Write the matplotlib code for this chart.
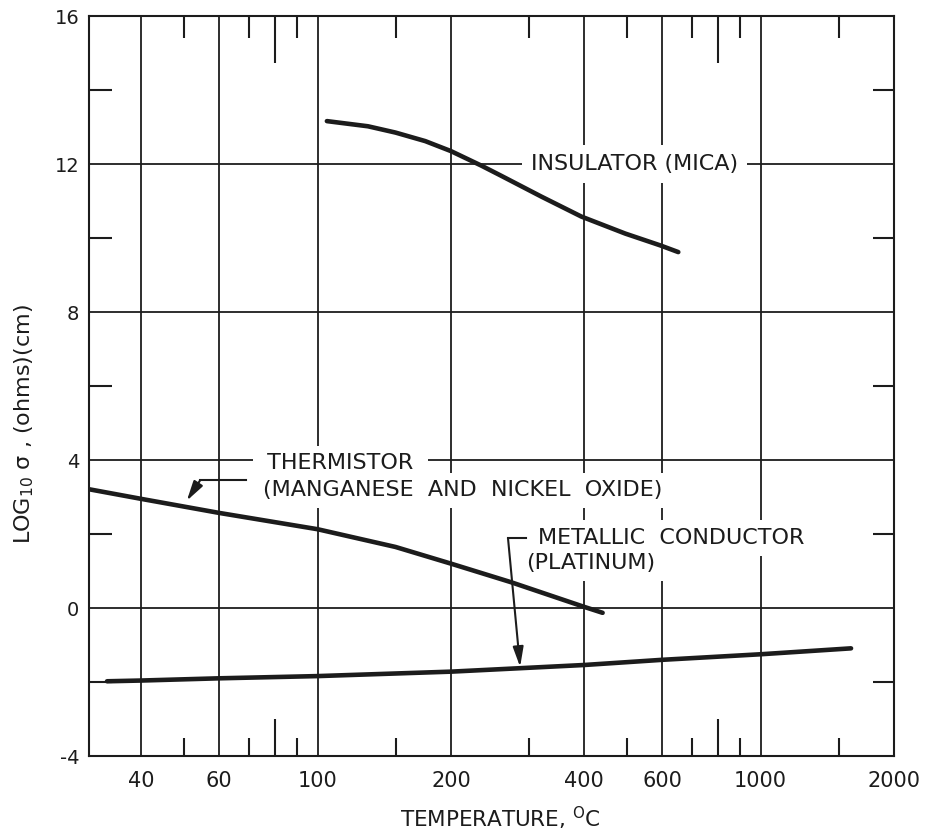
import matplotlib
matplotlib.use('Agg')
import matplotlib.pyplot as plt
from matplotlib.ticker import FixedLocator, FixedFormatter, NullFormatter

INK = '#1c1c1c'

# ---- axis ticks / labels ----
temp_ticks = [40, 60, 100, 200, 400, 600, 1000, 2000]
temp_tick_labels = ['40', '60', '100', '200', '400', '600', '1000', '2000']
temp_minor = [50, 70, 80, 90, 150, 300, 500, 700, 800, 900, 1500]
temp_minor_long = [80, 800]
log_ticks = [-4, 0, 4, 8, 12, 16]
log_tick_labels = ['-4', '0', '4', '8', '12', '16']
log_minor = [-2, 2, 6, 10, 14]

# ---- series (temperature in C, log10 resistivity) ----
mica_T = [105, 130, 150, 175, 200, 234, 260, 320, 394, 495, 594, 652]
mica_logr = [13.16, 13.02, 12.85, 12.62, 12.35, 11.96, 11.68, 11.12, 10.58, 10.12, 9.80, 9.62]

therm_T = [30.5, 40, 60, 100, 150, 200, 273, 400, 440]
therm_logr = [3.21, 2.95, 2.57, 2.13, 1.65, 1.20, 0.70, 0.03, -0.13]

plat_T = [33.5, 40, 60, 100, 200, 400, 600, 1000, 1600]
plat_logr = [-1.98, -1.96, -1.90, -1.84, -1.72, -1.54, -1.40, -1.25, -1.09]

plt.rcParams['font.family'] = ['DejaVu Sans']
plt.rcParams['axes.unicode_minus'] = False
plt.rcParams['mathtext.default'] = 'regular'

fig = plt.figure(figsize=(9.32, 8.35), dpi=100)
ax = fig.add_axes([0.0955, 0.0946, 0.8637, 0.8862])
ax.set_xscale('log')
ax.set_xlim(30.5, 2000)
ax.set_ylim(-4, 16)

ax.xaxis.set_major_locator(FixedLocator(temp_ticks))
ax.xaxis.set_major_formatter(FixedFormatter(temp_tick_labels))
ax.xaxis.set_minor_locator(FixedLocator(temp_minor))
ax.xaxis.set_minor_formatter(NullFormatter())
ax.yaxis.set_major_locator(FixedLocator(log_ticks))
ax.yaxis.set_major_formatter(FixedFormatter(log_tick_labels))
ax.yaxis.set_minor_locator(FixedLocator(log_minor))
ax.yaxis.set_minor_formatter(NullFormatter())

ax.grid(True, which='major', color=INK, lw=1.3)
ax.set_axisbelow(True)
ax.tick_params(which='major', length=0, colors=INK)
ax.tick_params(axis='x', which='major', pad=11, labelsize=15)
ax.tick_params(axis='y', which='major', pad=7, labelsize=14)
ax.tick_params(which='minor', direction='in', top=True, bottom=True,
               left=True, right=True, width=1.5, color=INK)
for sp in ax.spines.values():
    sp.set_linewidth(1.5)
    sp.set_color(INK)

# individual tick lengths (points)
xlocs = list(ax.xaxis.get_minorticklocs())
for tick, loc in zip(ax.xaxis.get_minor_ticks(len(xlocs)), xlocs):
    long_ = any(abs(loc - v) < 1e-6 for v in temp_minor_long)
    tick.tick1line.set_markersize(27 if long_ else 13)
    tick.tick2line.set_markersize(34 if long_ else 16)
ylocs = list(ax.yaxis.get_minorticklocs())
for tick in ax.yaxis.get_minor_ticks(len(ylocs)):
    tick.tick1line.set_markersize(16.5)
    tick.tick2line.set_markersize(15)

# ---- curves ----
for T, r in [(mica_T, mica_logr), (therm_T, therm_logr), (plat_T, plat_logr)]:
    ax.plot(T, r, color=INK, lw=3.3, solid_capstyle='round',
            solid_joinstyle='round', zorder=6)

box = dict(boxstyle='square,pad=0.35', fc='white', ec='none')
tkw = dict(fontsize=16, color=INK, va='center', zorder=4, bbox=box)

ax.text(520, 12.0, 'INSULATOR (MICA)', ha='center',
        fontsize=16, color=INK, va='center', zorder=4,
        bbox=dict(boxstyle='square,pad=0.4', fc='white', ec='none'))
ax.text(112.7, 3.91, ' THERMISTOR ', ha='center', **tkw)
ax.text(212.3, 3.18, '(MANGANESE  AND  NICKEL  OXIDE)', ha='center', **tkw)
ax.text(314.6, 1.89, 'METALLIC  CONDUCTOR', ha='left', **tkw)
ax.text(295.6, 1.21, '(PLATINUM)', ha='left', **tkw)

# leaders
akw = dict(arrowstyle='-|>,head_length=0.6,head_width=0.16', color=INK,
           lw=1.5, shrinkA=0, shrinkB=0, mutation_scale=20)
ax.plot([69.1, 54.4], [3.46, 3.46], color=INK, lw=1.5, zorder=5)
ax.annotate('', xy=(50.7, 2.90), xytext=(54.4, 3.46), arrowprops=akw, zorder=5)
ax.plot([295.6, 269.1], [1.89, 1.89], color=INK, lw=1.5, zorder=5)
ax.annotate('', xy=(286.6, -1.59), xytext=(269.1, 1.89), arrowprops=akw, zorder=5)

fig.text(24 / 932, 1 - 424 / 835, r'LOG$_{10}$ $\sigma$ , (ohms)(cm)',
         rotation=90, ha='center', va='center', fontsize=16, color=INK)
fig.text(500 / 932, 1 - 818 / 835, r'TEMPERATURE, $^{O}$C',
         ha='center', va='center', fontsize=15.5, color=INK)

fig.savefig('out.png', dpi=100)
